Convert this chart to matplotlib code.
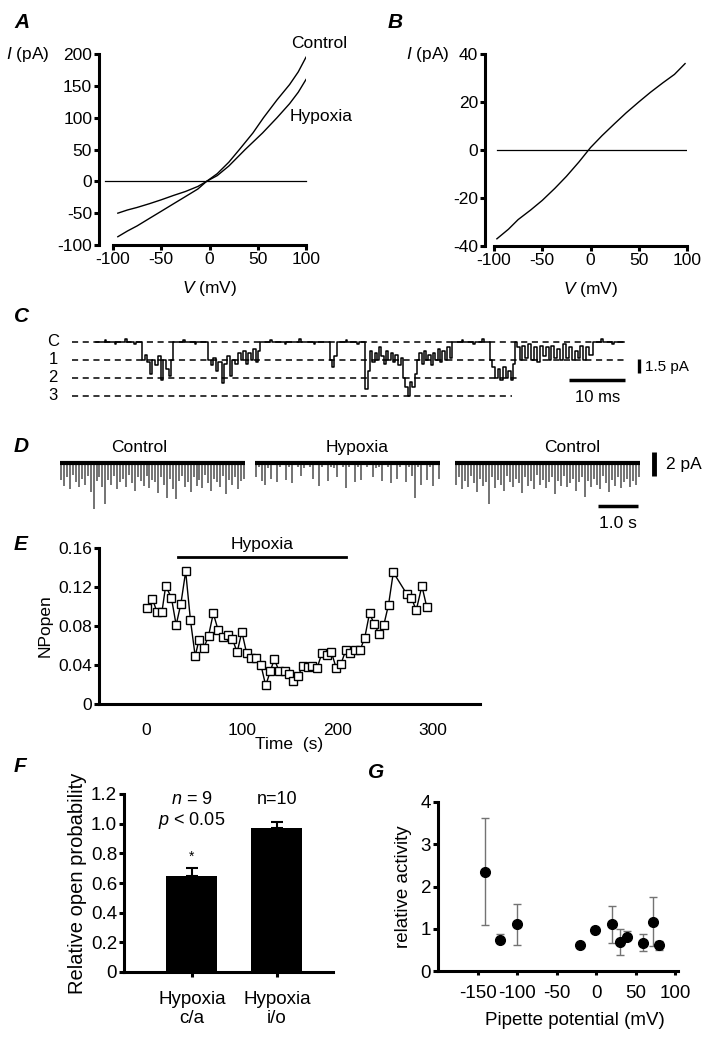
import numpy as np
import matplotlib
matplotlib.use("Agg")
import matplotlib.pyplot as plt

plt.rcParams['font.family'] = ['Liberation Sans', 'DejaVu Sans']
plt.rcParams['mathtext.fontset'] = 'custom'
plt.rcParams['mathtext.it'] = 'Liberation Sans:italic'
plt.rcParams['mathtext.rm'] = 'Liberation Sans'
plt.rcParams['axes.unicode_minus'] = False
plt.rcParams['font.size'] = 12.5

# ---- data ----
# A: whole-cell I-V, control vs hypoxia
a_v_ctrl = [-95, -85, -75, -62, -50, -37, -25, -12, -3, 8, 20, 31, 45, 56, 70, 83, 92, 100]
a_i_ctrl = [-87, -78, -70, -58, -47, -35, -24, -12, 0, 12, 30, 50, 76, 100, 128, 152, 172, 195]
a_v_hyp = [-95, -85, -75, -62, -50, -37, -25, -12, -3, 8, 20, 37, 55, 70, 83, 92, 100]
a_i_hyp = [-50, -45, -41, -35, -29, -22, -16, -8, 0, 9, 24, 50, 76, 100, 122, 140, 160]

# B: difference current
b_v = [-97, -85, -75, -62, -50, -37, -25, -12, 0, 12, 25, 37, 50, 62, 75, 87, 98]
b_i = [-37, -33, -29, -25, -21, -16, -11, -5, 1, 6, 11, 15.5, 20, 24, 28, 31.5, 36]

# C: single channel record, (start time in ms, number of open channels)
c_events = [(0, 0), (1.5, -0.12), (1.8, 0), (3.2, 0.12), (3.5, 0), (5.0, -0.15), (5.3, 0),
            (6.6, 0.1), (6.9, 0), (7.9, 1), (8.4, 0.7), (8.8, 1.1), (9.3, 1.8), (9.7, 1.0),
            (10.2, 1.3), (10.7, 0.8), (11.2, 2.1), (11.6, 1.0), (12.1, 1.5), (12.6, 1.9),
            (13.0, 1.0), (13.3, 0), (15.0, -0.12), (15.3, 0), (17.0, 0.12), (17.3, 0),
            (19.3, 1), (19.8, 1.3), (20.2, 0.9), (20.7, 1.6), (21.1, 1.1), (21.7, 2.3),
            (22.1, 1.2), (22.6, 0.8), (23.1, 1.9), (23.5, 1.0), (24.0, 1.2), (24.5, 0.6),
            (24.9, 1.0), (25.3, 0.5), (25.8, 1.2), (26.2, 0.6), (26.7, 1.0), (27.1, 0.4),
            (27.5, 1.1), (27.9, 0.5), (28.3, 0), (30.0, -0.12), (30.3, 0), (32.5, 0.12),
            (32.8, 0), (35.0, -0.15), (35.3, 0), (37.5, 0.1), (37.8, 0), (40.3, 1),
            (40.7, 1.4), (41.1, 0.8), (41.6, 0), (43.0, -0.12), (43.3, 0), (45.0, 0.12),
            (45.3, 0), (46.4, 2.6), (46.8, 1.6), (47.2, 0.5), (47.6, 1.1), (48.0, 0.6),
            (48.4, 1.0), (48.8, 0.3), (49.2, 0.8), (49.6, 1.2), (50.0, 0.5), (50.4, 1.0),
            (50.8, 0.6), (51.2, 1.1), (51.6, 0.7), (52.0, 1.3), (52.5, 0.9), (52.9, 2.0),
            (53.3, 2.5), (53.7, 3.0), (54.1, 2.2), (54.5, 2.5), (54.9, 1.8), (55.3, 1.0),
            (55.7, 0.6), (56.1, 1.2), (56.5, 0.5), (56.9, 1.0), (57.3, 0.7), (57.7, 1.3),
            (58.1, 0.6), (58.5, 1.0), (58.9, 0.4), (59.3, 1.1), (59.7, 0.5), (60.1, 1.0),
            (60.5, 0.3), (61.0, 0.9), (61.4, 0), (63.0, -0.12), (63.3, 0), (65.0, 0.12),
            (65.3, 0), (66.5, -0.15), (66.8, 0), (67.9, 1.0), (68.3, 1.4), (68.8, 2.0),
            (69.2, 1.5), (69.7, 2.1), (70.1, 1.4), (70.6, 2.0), (71.0, 1.6), (71.5, 2.1),
            (71.9, 1.2), (72.2, 0), (72.6, 0.3), (73.0, 1.0), (73.5, 0.2), (74.0, 0.9),
            (74.5, 0.1), (75.0, 1.0), (75.5, 0.3), (76.0, 1.1), (76.5, 0.2), (77.0, 0.8),
            (77.5, 0.3), (78.0, 1.0), (78.5, 0.2), (79.0, 0.9), (79.5, 0.4), (80.0, 1.0),
            (80.5, 0.1), (81.0, 0.9), (81.5, 0.3), (82.0, 1.0), (82.5, 0.5), (83.0, 0.9),
            (83.5, 0.2), (84.0, 1.0), (84.5, 0.3), (85.0, 0.7), (85.7, 0), (87.0, -0.15),
            (87.3, 0), (89.0, 0.1), (89.3, 0), (91.0, 0)]
c_names = ['C', '1', '2', '3']
c_line_end = [91, 91, 73, 71.7]

# D: peak inward current (pA) per bin, three consecutive 4.6 s stretches
d_names = ['Control', 'Hypoxia', 'Control']
d_start = [0, 4.875, 9.875]
d_name_x = [1.97, 7.42, 12.8]
d_ctrl1 = [1.4, 1.9, 1.2, 2.2, 1.0, 1.6, 2.0, 1.3, 1.8, 1.1, 2.4, 3.8, 1.5, 1.2, 2.0, 3.4,
           1.4, 1.8, 1.1, 2.2, 1.6, 1.3, 2.0, 1.0, 1.7, 2.3, 1.2, 1.5, 1.9, 1.1, 2.1, 1.4,
           1.6, 2.5, 1.2, 1.8, 2.9, 1.3, 2.2, 3.0, 1.5, 1.1, 2.0, 1.6, 2.4, 1.2, 1.9, 1.4,
           2.1, 1.0, 1.7, 2.3, 1.3, 1.6, 2.0, 1.1, 2.6, 1.4, 1.8, 1.2, 2.2, 1.5, 1.3]
d_hyp = [1.2, 0.3, 1.5, 1.8, 0.4, 1.3, 0.2, 1.6, 0.3, 0.2, 1.4, 0.3, 1.7, 0.2, 0.3, 1.1,
         0.4, 0.2, 0.3, 1.3, 0.2, 1.9, 0.3, 0.2, 1.5, 0.3, 0.4, 1.2, 0.2, 0.3, 2.1, 0.3,
         0.2, 1.6, 0.3, 1.4, 0.2, 0.3, 0.2, 1.2, 0.4, 0.3, 1.5, 0.2, 0.3, 1.7, 0.2, 1.3,
         0.3, 0.2, 1.6, 0.3, 1.1, 2.9, 0.3, 1.8, 0.2, 1.4, 0.3, 1.9, 0.2, 1.3]
d_ctrl2 = [1.8, 1.2, 2.2, 1.5, 2.0, 1.1, 1.7, 2.4, 1.3, 1.9, 1.6, 3.4, 1.2, 2.1, 1.4, 1.8,
           2.3, 1.1, 1.6, 2.0, 1.3, 1.7, 2.5, 1.2, 1.9, 1.5, 2.2, 1.0, 1.8, 1.4, 2.1, 1.6,
           1.2, 2.6, 1.5, 1.9, 1.1, 2.0, 1.7, 1.3, 2.3, 1.6, 1.2, 2.8, 1.5, 2.0, 1.3, 1.8,
           2.2, 1.1, 1.7, 2.4, 1.4, 1.9, 1.2, 2.1, 1.6, 1.3, 2.0, 1.5, 1.8, 1.2]
d_len = 4.62

# E: NPopen time course
e_t = [0, 6, 11, 16, 20, 26, 31, 36, 41, 46, 51, 55, 60, 65, 70, 75, 80, 85, 90, 95,
       100, 105, 110, 115, 120, 125, 130, 134, 139, 145, 149, 154, 159, 164, 169, 174,
       179, 184, 189, 194, 199, 204, 209, 214, 219, 224, 229, 234, 239, 244, 249, 254,
       259, 273, 278, 283, 289, 294]
e_np = [0.098, 0.108, 0.094, 0.094, 0.121, 0.109, 0.081, 0.103, 0.136, 0.086, 0.049,
        0.066, 0.057, 0.070, 0.093, 0.076, 0.069, 0.071, 0.067, 0.053, 0.074, 0.052,
        0.047, 0.047, 0.040, 0.019, 0.034, 0.046, 0.034, 0.034, 0.031, 0.024, 0.029,
        0.039, 0.038, 0.039, 0.037, 0.052, 0.050, 0.053, 0.037, 0.041, 0.055, 0.052,
        0.055, 0.055, 0.068, 0.093, 0.082, 0.072, 0.081, 0.102, 0.135, 0.113, 0.109,
        0.096, 0.121, 0.100]
e_hyp_span = [33, 209]

# F: relative open probability
f_labels = ['Hypoxia\nc/a', 'Hypoxia\ni/o']
f_mean = [0.65, 0.97]
f_sem = [0.05, 0.04]

# G: relative activity vs pipette potential
g_x = [-141, -122, -101, -21, -1, 20, 30, 39, 60, 72, 80]
g_y = [2.35, 0.74, 1.11, 0.61, 0.98, 1.11, 0.69, 0.81, 0.67, 1.16, 0.61]
g_lo = [1.10, 0.74, 0.62, 0.61, 0.98, 0.67, 0.37, 0.81, 0.47, 0.60, 0.50]
g_hi = [3.62, 0.87, 1.58, 0.61, 0.98, 1.55, 1.00, 0.95, 0.88, 1.75, 0.72]

W, H = 720, 1038
fig = plt.figure(figsize=(W / 100, H / 100), dpi=100)


def add_px(x0, y0, x1, y1):
    return fig.add_axes([x0 / W, 1 - y1 / H, (x1 - x0) / W, (y1 - y0) / H])


def ftext(x, y, s, **kw):
    fig.text(x / W, 1 - y / H, s, **kw)


def style(ax, lw=2.2):
    for s in ['top', 'right']:
        ax.spines[s].set_visible(False)
    ax.spines['left'].set_linewidth(lw)
    ax.spines['bottom'].set_linewidth(lw)
    ax.tick_params(direction='out', width=lw, length=3.5, labelsize=12.5, pad=1.5)


def letter(x, y, s):
    ftext(x, y, s, fontsize=15, fontweight='bold', fontstyle='italic', ha='left', va='center')


# ---- A ----
axA = add_px(113, 54, 306, 245)
style(axA)
axA.spines['left'].set_position(('outward', 10))
axA.plot(a_v_ctrl, a_i_ctrl, color='k', lw=1)
axA.plot(a_v_hyp, a_i_hyp, color='k', lw=1)
axA.axhline(0, xmin=-0.04, color='k', lw=0.9, clip_on=False)
axA.set_xlim(-100, 100)
axA.set_ylim(-100, 200)
axA.set_xticks([-100, -50, 0, 50, 100])
axA.set_yticks([-100, -50, 0, 50, 100, 150, 200])
axA.set_xlabel('$V$ (mV)', labelpad=9)
ftext(28, 54, '$I$ (pA)', ha='center', va='center')
ftext(319, 44, 'Control', ha='center', va='center')
ftext(321, 117, 'Hypoxia', ha='center', va='center')
letter(14, 22, 'A')

# ---- B ----
axB = add_px(494, 54, 687, 246)
style(axB)
axB.spines['left'].set_position(('outward', 6.5))
axB.plot(b_v, b_i, color='k', lw=1)
axB.axhline(0, xmin=0.015, color='k', lw=0.9)
axB.set_xlim(-100, 100)
axB.set_ylim(-40, 40)
axB.set_xticks([-100, -50, 0, 50, 100])
axB.set_yticks([-40, -20, 0, 20, 40])
axB.set_xlabel('$V$ (mV)', labelpad=9)
ftext(428, 54, '$I$ (pA)', ha='center', va='center')
letter(388, 22, 'B')

# ---- C ----
c_t = [e[0] for e in c_events]
c_lev = [e[1] for e in c_events]
axC = add_px(40, 330, 700, 410)
axC.axis('off')
axC.set_xlim(-9.66, 104.1)
axC.set_ylim(3.78, -0.667)
for k, name in enumerate(c_names):
    axC.plot([-4.1, c_line_end[k]], [k, k], color='k', lw=1.1, ls=(0, (4, 3)))
    axC.text(-7.4, k, name, ha='center', va='center', fontsize=12)
axC.step(c_t, c_lev, where='post', color='k', lw=1.1)
axC.plot([93.5, 93.5], [0.95, 1.75], color='k', lw=2.4, solid_capstyle='butt')
axC.text(94.7, 1.4, '1.5 pA', ha='left', va='center', fontsize=11)
axC.plot([81.5, 91.2], [2.1, 2.1], color='k', lw=2.5, solid_capstyle='butt')
axC.text(86.4, 3.1, '10 ms', ha='center', va='center', fontsize=12)
letter(14, 316, 'C')

# ---- D ----
axD = add_px(55, 430, 700, 530)
axD.axis('off')
axD.set_xlim(-0.125, 16.0)
axD.set_ylim(-5.58, 2.75)
for k, seg in enumerate([d_ctrl1, d_hyp, d_ctrl2]):
    tt = d_start[k] + np.linspace(0.03, d_len - 0.03, len(seg))
    axD.vlines(tt, 0, -np.asarray(seg), color='0.3', lw=1.1)
    axD.plot([d_start[k], d_start[k] + d_len], [0, 0], color='k', lw=3, solid_capstyle='butt')
    axD.text(d_name_x[k], 1.3, d_names[k], ha='center', va='center', fontsize=12.5)
axD.plot([14.85, 14.85], [0.9, -1.1], color='k', lw=3.5, solid_capstyle='butt')
axD.text(15.15, -0.1, '2 pA', ha='left', va='center', fontsize=12.5)
axD.plot([13.45, 14.45], [-3.6, -3.6], color='k', lw=2.5, solid_capstyle='butt')
axD.text(13.95, -5.0, '1.0 s', ha='center', va='center', fontsize=12.5)
letter(14, 447, 'D')

# ---- E ----
axE = add_px(99, 548, 480, 704)
style(axE)
axE.plot(e_t, e_np, color='k', lw=1, marker='s', ms=5.5, mfc='white', mec='k', mew=1)
axE.plot(e_hyp_span, [0.151, 0.151], color='k', lw=2, clip_on=False)
axE.text(np.mean(e_hyp_span), 0.164, 'Hypoxia', ha='center', va='center', fontsize=12.5)
axE.set_xlim(-50, 350)
axE.set_ylim(0, 0.16)
axE.set_xticks([0, 100, 200, 300])
axE.set_yticks([0, 0.04, 0.08, 0.12, 0.16])
axE.set_yticklabels(['0', '0.04', '0.08', '0.12', '0.16'])
axE.tick_params(axis='x', length=0, pad=14)
axE.set_xlabel('Time  (s)', labelpad=-1)
axE.set_ylabel('NPopen', labelpad=4)
letter(14, 545, 'E')

# ---- F ----
axF = add_px(124, 794, 333, 972)
style(axF)
axF.bar([1, 2], f_mean, width=0.6, color='k', yerr=[[0, 0], f_sem],
        error_kw=dict(ecolor='k', elinewidth=1.5, capsize=4, capthick=1.5))
axF.set_xlim(0.2, 2.66)
axF.set_ylim(0, 1.2)
axF.set_yticks([0, 0.2, 0.4, 0.6, 0.8, 1.0, 1.2])
axF.set_yticklabels(['0', '0.2', '0.4', '0.6', '0.8', '1.0', '1.2'])
axF.set_xticks([1, 2])
axF.set_xticklabels(f_labels, linespacing=1.15)
axF.tick_params(axis='both', labelsize=13.5)
axF.tick_params(axis='x', pad=10)
axF.set_ylabel('Relative open probability', fontsize=14.5, labelpad=3)
axF.text(1, 1.16, '$n$ = 9', ha='center', va='center', fontsize=13, clip_on=False)
axF.text(1, 1.02, '$p$ < 0.05', ha='center', va='center', fontsize=13)
axF.text(2, 1.16, 'n=10', ha='center', va='center', fontsize=13, clip_on=False)
axF.text(1, f_mean[0] + f_sem[0] + 0.03, '*', ha='center', va='bottom', fontsize=10)
letter(14, 767, 'F')

# ---- G ----
axG = add_px(438, 802, 678, 971)
style(axG)
g_y_arr = np.asarray(g_y)
axG.errorbar(g_x, g_y, yerr=[g_y_arr - np.asarray(g_lo), np.asarray(g_hi) - g_y_arr],
             fmt='none', ecolor='0.45', elinewidth=1, capsize=3, capthick=1)
axG.plot(g_x, g_y, 'o', color='k', ms=7)
axG.set_xlim(-200.8, 103.8)
axG.set_ylim(0, 4)
axG.set_xticks([-150, -100, -50, 0, 50, 100])
axG.set_yticks([0, 1, 2, 3, 4])
axG.tick_params(axis='both', labelsize=13.5)
axG.tick_params(axis='x', length=3, pad=7)
axG.set_xlabel('Pipette potential (mV)', fontsize=13.5, labelpad=5)
axG.xaxis.set_label_coords((575 - 438) / 240, -0.24)
axG.set_ylabel('relative activity', fontsize=13.5, labelpad=6)
letter(368, 772, 'G')

fig.savefig('out.png', dpi=100)
